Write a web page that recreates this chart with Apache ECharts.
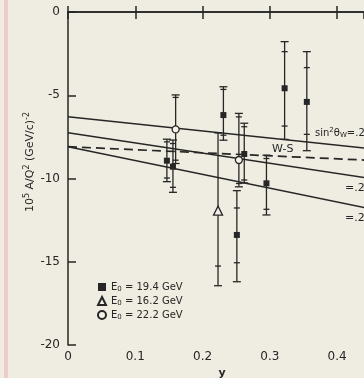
<!DOCTYPE html>
<html>
<head>
<meta charset="utf-8">
<script src="https://cdn.jsdelivr.net/npm/echarts@6/dist/echarts.min.js"></script>
<style>
html,body{margin:0;padding:0;background:#efede1;}
#chart{width:364px;height:378px;}
</style>
</head>
<body>
<div id="chart"></div>
<script>
// each point: [y, A/Q2, outer low, outer high, inner low, inner high]
const e194 = [
  [0.147, -8.93, -10.19, -7.64, -9.97, -7.80],
  [0.156, -9.29, -10.83, -7.69, -10.53, -7.90],
  [0.231, -6.19, -7.70, -4.49, -7.40, -4.65],
  [0.262, -8.53, -10.27, -6.68, -10.09, -6.89],
  [0.251, -13.39, -16.20, -10.73, -15.06, -11.77],
  [0.295, -10.29, -12.19, -8.60, -11.85, -8.80],
  [0.322, -4.58, -7.65, -1.78, -6.85, -2.38],
  [0.355, -5.40, -8.33, -2.38, -7.35, -3.34]
];
const e162 = [
  [0.223, -11.93, -16.44, -7.25, -15.26, -7.25]
];
const e222 = [
  [0.160, -7.05, -9.10, -4.98, -8.90, -5.13],
  [0.254, -8.89, -10.50, -6.09, -10.30, -6.30]
];

// model lines, value at y = 0 and y = 0.5
const lineTop = [[0, -6.29], [0.5, -8.43]];
const lineMid = [[0, -7.25], [0.5, -10.30]];
const lineLow = [[0, -8.09], [0.5, -12.24]];
const lineWS = [[0, -8.09], [0.5, -9.00]];

const xLabels = ['0', '0.1', '0.2', '0.3', '0.4'];
const energies = ['19.4', '16.2', '22.2'];

const ink = '#262626';
const font = 'DejaVu Sans';

var chart = echarts.init(document.getElementById('chart'));

function renderErr(params, api) {
  const x = api.value(0);
  const hi = api.coord([x, api.value(3)]);
  const lo = api.coord([x, api.value(2)]);
  const ihi = api.coord([x, api.value(5)]);
  const ilo = api.coord([x, api.value(4)]);
  const st = { stroke: ink, lineWidth: 1.3 };
  const bar = (p, w) => ({ type: 'line', shape: { x1: p[0] - w, y1: p[1], x2: p[0] + w, y2: p[1] }, style: st });
  return {
    type: 'group',
    children: [
      { type: 'line', shape: { x1: hi[0], y1: hi[1], x2: lo[0], y2: lo[1] }, style: st },
      bar(hi, 4), bar(lo, 4), bar(ihi, 3), bar(ilo, 3)
    ]
  };
}

function errSeries(data) {
  return {
    type: 'custom',
    renderItem: renderErr,
    encode: { x: 0, y: [2, 3] },
    data: data,
    clip: false,
    z: 3
  };
}

function modelLine(data, dashed) {
  return {
    type: 'line',
    data: data,
    symbol: 'none',
    silent: true,
    clip: true,
    lineStyle: { color: ink, width: dashed ? 1.7 : 1.5, type: dashed ? [9, 5] : 'solid' },
    z: 2
  };
}

const pts = rows => rows.map(r => [r[0], r[1]]);

var option = {
  backgroundColor: '#efede1',
  animation: false,
  grid: { left: 68, top: 12, bottom: 33, right: 0 },
  xAxis: [{
    type: 'value', min: 0, max: 0.44, interval: 0.1,
    axisLine: { lineStyle: { color: ink, width: 1.5 } },
    axisTick: { inside: true, length: 6, lineStyle: { color: ink, width: 1.5 } },
    splitLine: { show: false },
    axisLabel: {
      color: ink, fontSize: 12, fontFamily: font, margin: 6, showMaxLabel: false,
      formatter: v => xLabels[Math.round(v * 10)] || ''
    }
  }, {
    type: 'value', min: 0, max: 0.44, interval: 0.1, position: 'top',
    axisLine: { lineStyle: { color: ink, width: 1.5 } },
    axisTick: { inside: true, length: 7, lineStyle: { color: ink, width: 1.5 } },
    splitLine: { show: false },
    axisLabel: { show: false }
  }],
  yAxis: {
    type: 'value', min: -20, max: 0, interval: 5,
    axisLine: { show: true, lineStyle: { color: ink, width: 1.5 } },
    axisTick: { show: true, inside: true, length: 8, lineStyle: { color: ink, width: 1.5 } },
    splitLine: { show: false },
    axisLabel: { color: ink, fontSize: 12, fontFamily: font, margin: 8 }
  },
  legend: {
    orient: 'vertical', left: 92, top: 277, itemGap: 3,
    itemWidth: 8, itemHeight: 8,
    data: energies,
    formatter: name => '{e|E}{s|0}{e| = ' + name + ' GeV}',
    textStyle: {
      color: ink, fontFamily: font,
      rich: { e: { fontSize: 10, fontFamily: font }, s: { fontSize: 7, fontFamily: font, padding: [5, 0, 0, 0] } }
    }
  },
  series: [
    modelLine(lineTop), modelLine(lineMid), modelLine(lineLow), modelLine(lineWS, true),
    errSeries(e194), errSeries(e162), errSeries(e222),
    { name: '19.4', type: 'scatter', symbol: 'rect', symbolSize: 6, data: pts(e194),
      itemStyle: { color: ink, opacity: 1 }, z: 4 },
    { name: '16.2', type: 'scatter', symbol: 'triangle', symbolSize: 9, data: pts(e162),
      itemStyle: { color: '#f4f2e8', borderColor: ink, borderWidth: 1.3, opacity: 1 }, z: 4 },
    { name: '22.2', type: 'scatter', symbol: 'circle', symbolSize: 7, data: pts(e222),
      itemStyle: { color: '#f4f2e8', borderColor: ink, borderWidth: 1.3, opacity: 1 }, z: 4 }
  ],
  graphic: [
    { type: 'rect', left: 4, top: 0, shape: { width: 4, height: 378 }, style: { fill: 'rgba(235,165,178,0.45)' }, silent: true },
    { type: 'text', x: 30, y: 162, rotation: Math.PI / 2,
      style: {
        text: '10{s|5} A/Q{s|2} (GeV/c){s|-2}', x: 0, y: 0, align: 'center', verticalAlign: 'middle',
        fill: ink, font: '11px ' + font,
        rich: { s: { fontSize: 8, fontFamily: font, fill: ink, padding: [0, 0, 6, 0] } }
      } },
    { type: 'text', x: 222, y: 373, style: { text: 'y', align: 'center', verticalAlign: 'middle', fill: ink, font: 'bold 11px ' + font } },
    { type: 'text', x: 315, y: 133,
      style: {
        text: 'sin{s|2}θ{w|W}=.22', x: 0, y: 0, verticalAlign: 'middle', fill: ink, font: '10px ' + font,
        rich: { s: { fontSize: 7, fontFamily: font, fill: ink, padding: [0, 0, 6, 0] }, w: { fontSize: 7, fontFamily: font, fill: ink, padding: [5, 0, 0, 0] } }
      } },
    { type: 'text', x: 272, y: 149, style: { text: 'W-S', verticalAlign: 'middle', fill: ink, font: '11px ' + font } },
    { type: 'text', x: 345, y: 188, style: { text: '=.25', verticalAlign: 'middle', fill: ink, font: '11px ' + font } },
    { type: 'text', x: 345, y: 218, style: { text: '=.23', verticalAlign: 'middle', fill: ink, font: '11px ' + font } }
  ]
};

chart.setOption(option);
</script>
</body>
</html>
